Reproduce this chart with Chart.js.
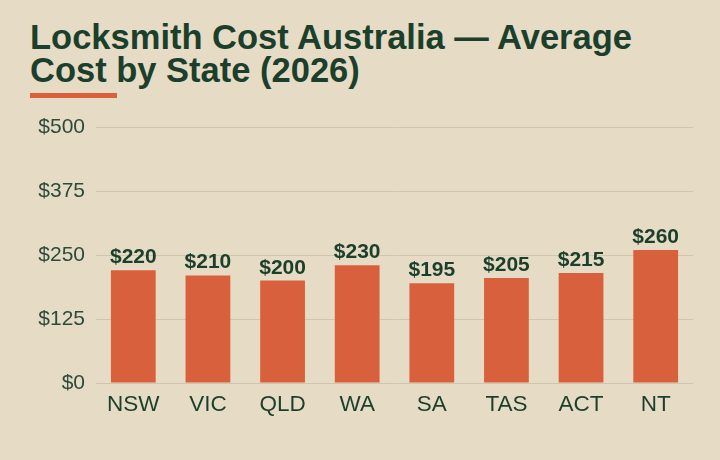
<!DOCTYPE html>
<html>
<head>
<meta charset="utf-8">
<script src="https://cdn.jsdelivr.net/npm/chart.js@4/dist/chart.umd.min.js"></script>
<style>
    html, body { margin: 0; padding: 0; background: #e6dcc6; }
    #wrap { position: relative; width: 720px; height: 460px; overflow: hidden; }
    #title {
        position: absolute; left: 30px; top: 21px; margin: 0;
        font-family: "Liberation Sans", Arial, sans-serif; font-weight: bold;
        font-size: 34.5px; line-height: 33px; color: #1c3f2c; white-space: nowrap;
    }
    #rule { position: absolute; left: 30px; top: 93px; width: 87px; height: 5px; background: #d9603c; }
    #chart { position: absolute; left: 0; top: 0; }
</style>
</head>
<body>
<div id="wrap">
    <h1 id="title">Locksmith Cost Australia — Average<br>Cost by State (2026)</h1>
    <div id="rule"></div>
    <canvas id="chart" width="720" height="460"></canvas>
</div>
<script>
// data
var states = ["NSW", "VIC", "QLD", "WA", "SA", "TAS", "ACT", "NT"];
var costs = [220, 210, 200, 230, 195, 205, 215, 260];
var yTicks = [0, 125, 250, 375, 500];

// draws "$220" etc above each bar
var valueLabels = {
    id: 'valueLabels',
    afterDatasetsDraw: function (chart) {
        var ctx = chart.ctx;
        var meta = chart.getDatasetMeta(0);
        ctx.save();
        ctx.font = "bold 21px 'Liberation Sans', Arial, sans-serif";
        ctx.fillStyle = '#1c3f2c';
        ctx.textAlign = 'center';
        ctx.textBaseline = 'alphabetic';
        meta.data.forEach(function (bar, i) {
            ctx.fillText('$' + costs[i], bar.x, bar.y - 7);
        });
        ctx.restore();
    }
};

new Chart(document.getElementById('chart'), {
    type: 'bar',
    data: {
        labels: states,
        datasets: [{
            data: costs,
            backgroundColor: '#d9603c',
            borderWidth: 0,
            categoryPercentage: 1,
            barPercentage: 0.6
        }]
    },
    options: {
        responsive: false,
        animation: false,
        layout: { padding: { left: 30, right: 27, top: 127, bottom: 0 } },
        plugins: { legend: { display: false }, tooltip: { enabled: false }, title: { display: false } },
        scales: {
            x: {
                grid: { display: false, drawTicks: false },
                border: { display: false },
                ticks: {
                    color: '#1c3f2c', padding: 8,
                    font: { family: "'Liberation Sans', Arial, sans-serif", size: 22.5 }
                },
                afterFit: function (scale) { scale.height = 77; }
            },
            y: {
                min: 0, max: 500,
                afterBuildTicks: function (scale) {
                    scale.ticks = yTicks.map(function (v) { return { value: v }; });
                },
                grid: { color: '#d0c5ad', lineWidth: 1, drawTicks: false },
                border: { display: false },
                ticks: {
                    color: '#2c4b3b', padding: 11,
                    font: { family: "'Liberation Sans', Arial, sans-serif", size: 21 },
                    callback: function (v) { return '$' + v; }
                },
                afterFit: function (scale) { scale.width = 66; }
            }
        }
    },
    plugins: [valueLabels]
});
</script>
</body>
</html>
